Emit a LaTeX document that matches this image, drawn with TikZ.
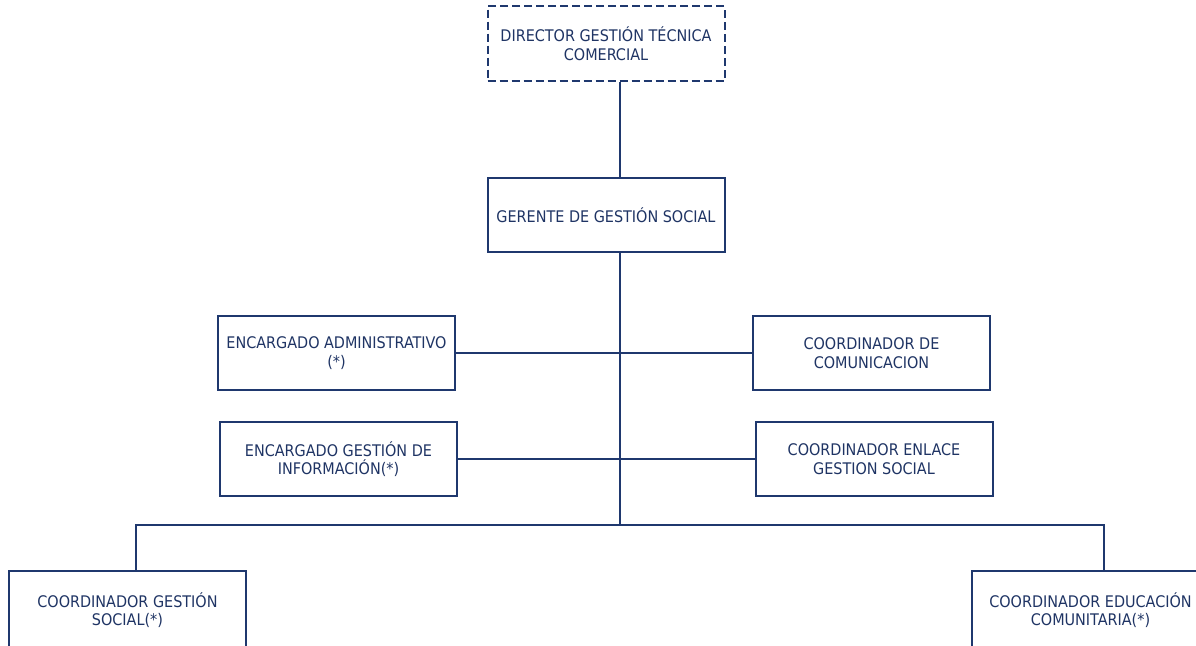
\documentclass[tikz,border=0pt]{standalone}
\usepackage{fontspec}
\setmainfont{DejaVu Sans Condensed}
\usepackage{xcolor}
\definecolor{navyline}{RGB}{31,56,110}
\definecolor{navytext}{RGB}{31,52,100}

\begin{document}
\begin{tikzpicture}[x=0.75pt, y=-0.75pt,
    unit/.style={draw=navyline, line width=1.5pt, rectangle, align=center,
        minimum width=177.75pt, minimum height=56pt, inner sep=2pt,
        text=navytext, font=\fontsize{12}{14}\selectfont},
    headunit/.style={unit, dash pattern=on 6pt off 3pt},
    baseunit/.style={unit, minimum height=58pt},
    link/.style={draw=navyline, line width=1.5pt}]
    \useasboundingbox (0,0) rectangle (1196,646);
    \clip (0,0) rectangle (1196,646);

    % Create boxes
    \node[headunit] (dir) at (606,43.5) {DIRECTOR GESTIÓN TÉCNICA\\COMERCIAL};
    \node[unit] (ger) at (606,215) {GERENTE DE GESTIÓN SOCIAL};
    \node[unit] (adm) at (336.5,353) {ENCARGADO ADMINISTRATIVO\\(*)};
    \node[unit] (com) at (871.5,353) {COORDINADOR DE\\COMUNICACION};
    \node[unit] (inf) at (338.5,459) {ENCARGADO GESTIÓN DE\\INFORMACIÓN(*)};
    \node[unit] (enl) at (874,459) {COORDINADOR ENLACE\\GESTION SOCIAL};
    \node[baseunit] (gs) at (127.5,610) {COORDINADOR GESTIÓN\\SOCIAL(*)};
    \node[baseunit] (edu) at (1090.5,610) {COORDINADOR EDUCACIÓN\\COMUNITARIA(*)};

    % Branch points
    \coordinate (spine) at (620,525);
    \coordinate (bl) at (136,525);
    \coordinate (br) at (1104,525);

    % Draw the lines
    \draw[link] (dir.south -| spine) -- (ger.north -| spine);
    \draw[link] (ger.south -| spine) -- (spine);
    \draw[link] (adm.east) -- (com.west);
    \draw[link] (inf.east) -- (enl.west);
    \draw[link] (gs.north -| bl) -- (bl) -- (br) -- (edu.north -| br);
\end{tikzpicture}
\end{document}
